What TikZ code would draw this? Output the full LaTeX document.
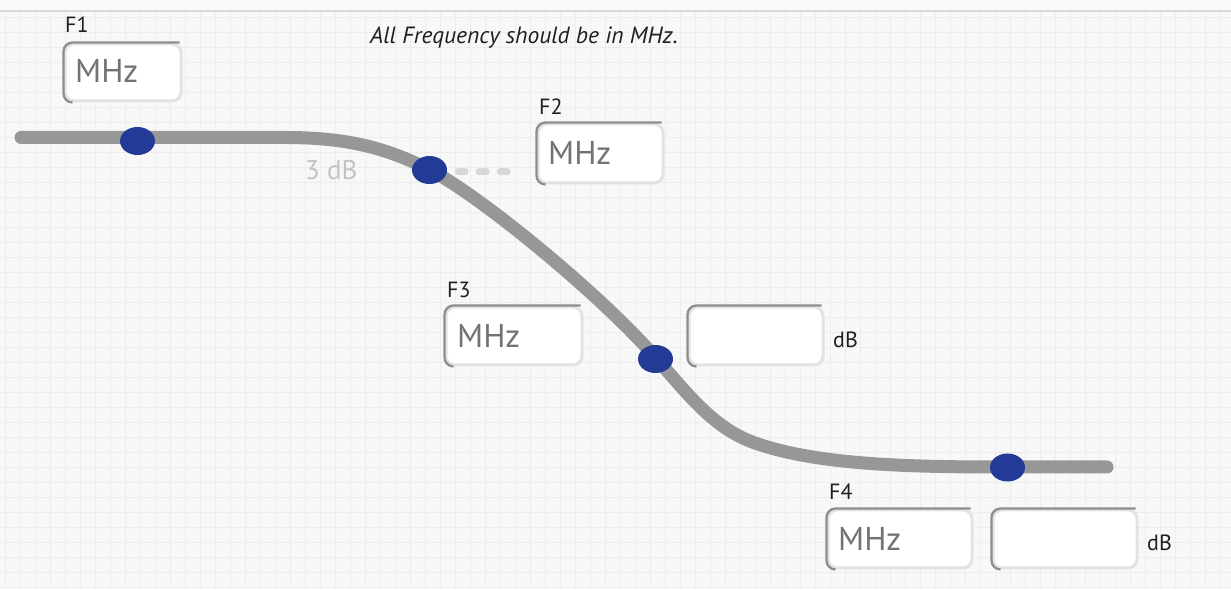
\documentclass[tikz,border=0pt]{standalone}
\usepackage{fontspec}
\setmainfont{PT Sans}
\definecolor{gridc}{HTML}{EDEDED}
\definecolor{bgc}{HTML}{F8F8F8}
\definecolor{curvec}{HTML}{979797}
\definecolor{dotc}{RGB}{35,59,150}
\definecolor{boxedge}{HTML}{E3E3E3}
\definecolor{boxshade}{HTML}{8E8E8E}
\definecolor{mhzc}{HTML}{737373}
\definecolor{faintc}{HTML}{C3C3C3}
\definecolor{dashc}{HTML}{D8D8D8}
\tikzset{
  fieldbg/.style={draw=boxedge, line width=3pt, rounded corners=9pt, fill=white, inner sep=0pt},
  fieldshade/.style={draw=boxshade, line width=2.3pt, rounded corners=9pt},
  mhz/.style={font=\fontsize{33}{36}\selectfont, text=mhzc, inner sep=0pt, anchor=base west},
  flabel/.style={font=\fontsize{22}{24}\selectfont, text=black!88, inner sep=0pt, anchor=base west},
  dblabel/.style={font=\fontsize{22}{24}\selectfont, text=black!88, inner sep=0pt, anchor=base west},
  handle/.style={ellipse, fill=dotc, minimum width=35pt, minimum height=28pt, inner sep=0pt},
}
\usetikzlibrary{shapes.geometric}
\newcommand\fieldbox[5]{%
  \node[fieldbg, minimum width=#4pt, minimum height=#5pt] (#1) at (#2,#3) {};
  \draw[fieldshade] ([xshift=9pt]#1.south west) -- (#1.south west) -- (#1.north west) -- ([xshift=-3pt]#1.north east);
}
\begin{document}
\begin{tikzpicture}[x=1pt,y=1pt]
\useasboundingbox (0,0) rectangle (1231,589);
% background
\fill[bgc] (0,0) rectangle (1231,578);
\fill[white!98!black] (0,578) rectangle (1231,589);
\foreach \gx in {5,20,...,1230} \draw[gridc, line width=1pt] (\gx,0) -- (\gx,578);
\foreach \gy in {1,16,...,577} \draw[gridc, line width=1pt] (0,\gy) -- (1231,\gy);
\draw[black!14, line width=1.5pt] (0,578) -- (1231,578);
% title
\node[font=\fontsize{23.5}{26}\selectfont\itshape, text=black!88, inner sep=0pt, anchor=base west] (title) at (370,545) {All Frequency should be in MHz.};
% curve
\draw[curvec, line width=13pt, line cap=round]
  (21,451.5) -- (285,451.5)
  .. controls (345,451.5) and (385,442) .. (430,419)
  .. controls (480,393.4) and (600,295) .. (656,231)
  .. controls (690,192) and (715,160) .. (755,146)
  .. controls (815,125) and (900,122) .. (1000,122)
  -- (1107,122);
% 3 dB marker
\coordinate (dashend) at (508,417);
\node[font=\fontsize{27}{30}\selectfont, text=faintc, inner sep=0pt, anchor=base west] (threedb) at (305,409) {3 dB};
% handles
\node[handle] (h1) at (137.5,448) {};
\node[handle] (h2) at (429.5,419) {};
\node[handle] (h3) at (655.5,230) {};
\node[handle] (h4) at (1007.5,121.5) {};
\draw[dashc, line width=7pt, line cap=round, dash pattern=on 7pt off 14pt] ([xshift=11pt]h2.east |- dashend) -- (dashend);
% F1
\node[flabel] (f1) at (65,556) {F1};
\fieldbox{b1}{123}{516.5}{116}{57}
\node[mhz] (m1) at (75,506) {MHz};
% F2
\node[flabel] (f2) at (539,474) {F2};
\fieldbox{b2}{600.5}{435.5}{125}{59}
\node[mhz] (m2) at (548,424) {MHz};
% F3
\node[flabel] (f3) at (447,291) {F3};
\fieldbox{b3}{514}{253}{136}{58}
\node[mhz] (m3) at (457,241) {MHz};
\fieldbox{b3db}{756}{253}{134}{58}
\node[dblabel] (d3) at (833,241) {dB};
% F4
\node[flabel] (f4) at (829,89) {F4};
\fieldbox{b4}{900}{50}{144}{58}
\node[mhz] (m4) at (838,38) {MHz};
\fieldbox{b4db}{1065}{50}{144}{58}
\node[dblabel] (d4) at (1147,38) {dB};
\end{tikzpicture}
\end{document}
